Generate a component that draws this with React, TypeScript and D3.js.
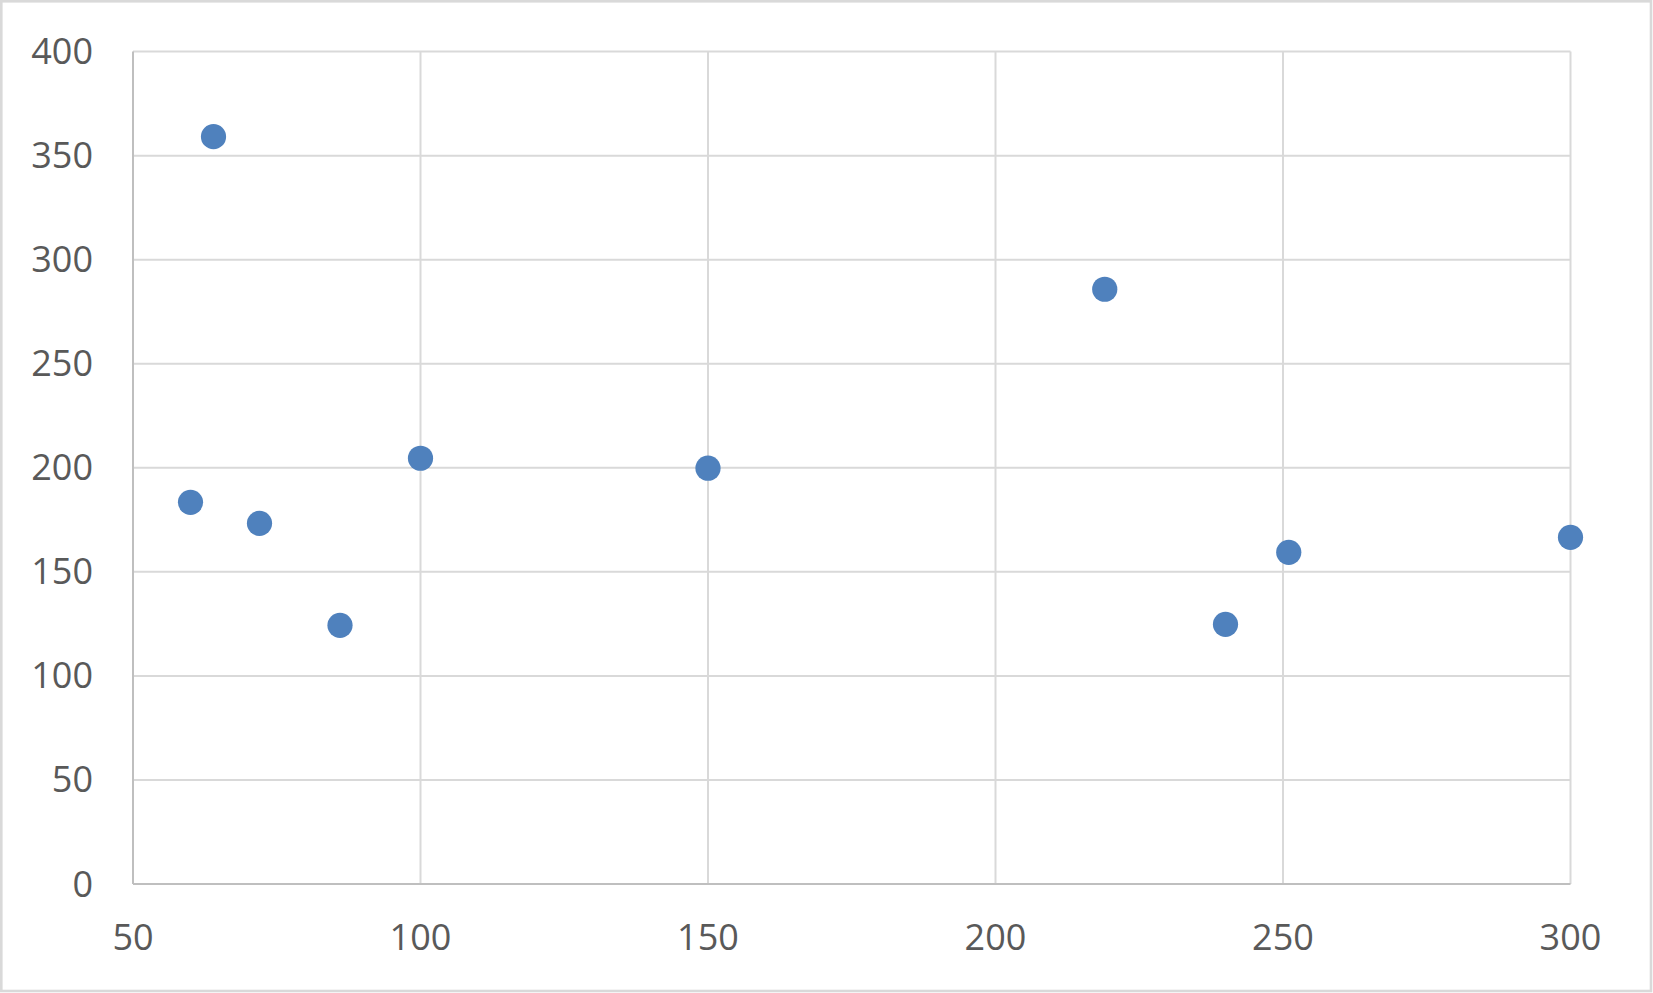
import React from "react";
import * as d3 from "d3";

const xValues = [60, 64, 72, 86, 100, 150, 219, 240, 251, 300];
const yValues = [183.4, 359.1, 173.3, 124.3, 204.6, 199.8, 285.8, 124.8, 159.4, 166.6];
const xTicks = [50, 100, 150, 200, 250, 300];
const yTicks = [0, 50, 100, 150, 200, 250, 300, 350, 400];

const W = 1653;
const H = 993;
const left = 133;
const right = 1570.5;
const top = 51.6;
const bottom = 884;

export default function App() {
  const x = d3.scaleLinear().domain([50, 300]).range([left, right]);
  const y = d3.scaleLinear().domain([0, 400]).range([bottom, top]);
  const font = "'Open Sans', 'Liberation Sans', sans-serif";
  const points = xValues.map((v, i) => ({ x: v, y: yValues[i] }));
  return (
    <div style={{ position: "absolute", left: 0, top: 0, width: W, height: H, background: "#fff" }}>
      <svg width={W} height={H} viewBox={`0 0 ${W} ${H}`}>
        <rect x={0} y={0} width={W} height={H} fill="#ffffff" />
        <rect x={1.3} y={1.3} width={W - 3.3} height={H - 3.3} fill="none" stroke="#d9d9d9" strokeWidth={2.6} />
        {yTicks.filter((t) => t !== 0).map((t) => (
          <line key={"gy" + t} x1={left} x2={right} y1={y(t)} y2={y(t)} stroke="#d9d9d9" strokeWidth={2} />
        ))}
        {xTicks.filter((t) => t !== 50).map((t) => (
          <line key={"gx" + t} x1={x(t)} x2={x(t)} y1={top} y2={bottom} stroke="#d9d9d9" strokeWidth={2} />
        ))}
        <line x1={left} x2={left} y1={top} y2={bottom} stroke="#bfbfbf" strokeWidth={2} />
        <line x1={left} x2={right} y1={bottom} y2={bottom} stroke="#bfbfbf" strokeWidth={2} />
        {yTicks.map((t) => (
          <text key={"ly" + t} x={93} y={y(t) + 12.5} textAnchor="end" fontFamily={font} fontSize={36} fill="#595959">
            {t}
          </text>
        ))}
        {xTicks.map((t) => (
          <text key={"lx" + t} x={x(t)} y={950} textAnchor="middle" fontFamily={font} fontSize={36} fill="#595959">
            {t}
          </text>
        ))}
        {points.map((p, i) => (
          <circle key={"p" + i} cx={x(p.x)} cy={y(p.y)} r={12.6} fill="#4f81bd" />
        ))}
      </svg>
    </div>
  );
}
